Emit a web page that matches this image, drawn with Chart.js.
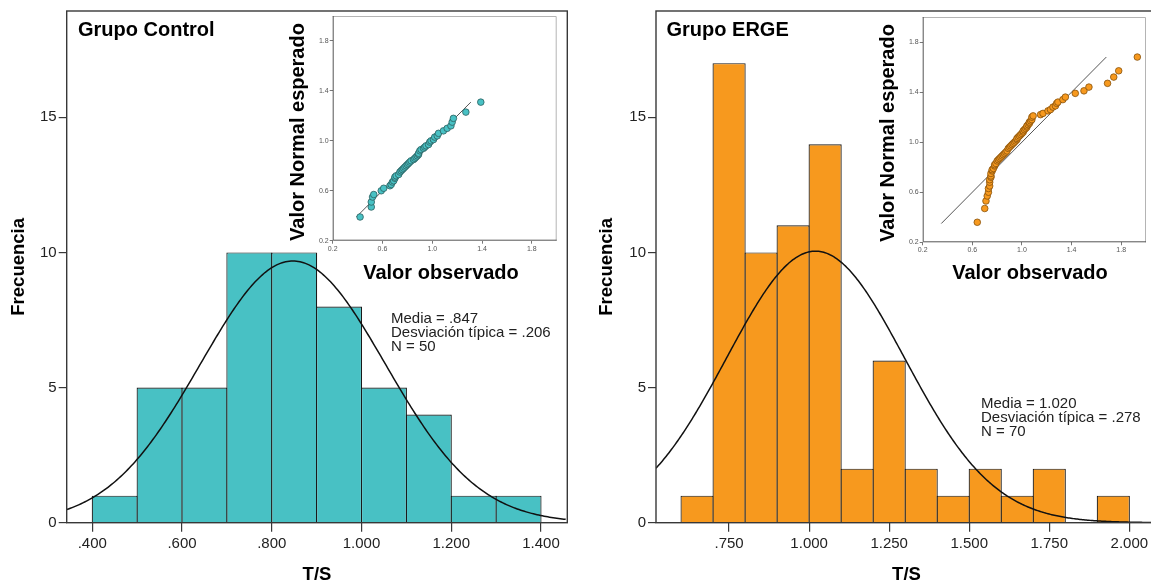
<!DOCTYPE html>
<html><head><meta charset="utf-8">
<script src="https://cdn.jsdelivr.net/npm/chart.js@4.4.1/dist/chart.umd.min.js"></script>
<style>
html,body{margin:0;padding:0;background:#fff;overflow:hidden;width:1151px;height:586px;position:relative;}
canvas{position:absolute;top:0;}
</style></head><body>
<canvas id="h1" width="580" height="586" style="left:0px"></canvas>
<canvas id="h2" width="600" height="586" style="left:580px"></canvas>
<canvas id="q1" width="290" height="290" style="left:280px"></canvas>
<canvas id="q2" width="290" height="290" style="left:870px"></canvas>
<script>
// ---------- DATA ----------
const ctrlBinStarts = [0.4,0.5,0.6,0.7,0.8,0.9,1.0,1.1,1.2,1.3];
const ctrlCounts    = [1,5,5,10,10,8,5,4,1,1];
const ergeBinStarts = [0.6,0.7,0.8,0.9,1.0,1.1,1.2,1.3,1.4,1.5,1.6,1.7,1.8,1.9];
const ergeCounts    = [1,17,10,11,14,2,6,2,1,2,1,2,0,1];
const binWidth = 0.1;

const ctrlStats = {mean:0.847, sd:0.206, n:50};
const ergeStats = {mean:1.020, sd:0.278, n:70};
const ctrlStatLines = ["Media = .847","Desviación típica = .206","N = 50"];
const ergeStatLines = ["Media = 1.020","Desviación típica = .278","N = 70"];

const ctrlXTickValues = [0.4,0.6,0.8,1.0,1.2,1.4];
const ctrlXTickLabels = [".400",".600",".800","1.000","1.200","1.400"];
const ergeXTickValues = [0.75,1.0,1.25,1.5,1.75,2.0];
const ergeXTickLabels = [".750","1.000","1.250","1.500","1.750","2.000"];
const yTickValues = [0,5,10,15];
const yTickLabels = ["0","5","10","15"];

const qqTickValues = [0.2,0.6,1.0,1.4,1.8];
const qqTickLabels = ["0.2","0.6","1.0","1.4","1.8"];

// Q-Q: observed values and expected normal values
const ctrlObs = [0.42,0.51,0.51,0.52,0.53,0.59,0.61,0.66,0.67,0.68,0.69,0.70,0.70,0.71,0.73,0.74,0.75,0.76,0.77,0.78,0.79,0.80,0.81,0.82,0.83,0.85,0.86,0.87,0.88,0.89,0.89,0.90,0.91,0.93,0.94,0.95,0.97,0.98,0.99,1.01,1.02,1.04,1.05,1.09,1.12,1.15,1.16,1.17,1.27,1.39];
const ctrlExp = [0.39,0.47,0.51,0.55,0.57,0.60,0.62,0.64,0.65,0.67,0.68,0.70,0.71,0.72,0.73,0.75,0.76,0.77,0.78,0.79,0.80,0.81,0.82,0.83,0.84,0.85,0.86,0.87,0.88,0.89,0.90,0.92,0.93,0.94,0.95,0.96,0.97,0.99,1.00,1.01,1.03,1.04,1.06,1.08,1.10,1.12,1.15,1.18,1.23,1.31];
const ctrlRefLine = [[0.39,0.39],[1.31,1.31]];

const ergeObs = [0.64,
 0.70,0.71,0.72,0.73,0.73,0.74,0.74,0.74,0.75,0.75,0.75,0.76,0.76,0.77,0.78,0.78,0.79,
 0.80,0.81,0.82,0.83,0.84,0.85,0.86,0.87,0.88,0.89,
 0.90,0.91,0.92,0.93,0.94,0.95,0.96,0.96,0.97,0.98,0.99,
 1.00,1.01,1.01,1.02,1.03,1.04,1.04,1.05,1.06,1.06,1.07,1.08,1.08,1.09,
 1.15,1.17,1.21,1.23,1.25,1.27,1.28,1.29,1.33,1.35,1.43,1.50,1.54,1.69,1.74,1.78,1.93];
const ergeExp = [0.36,0.47,0.53,0.57,0.60,0.63,0.65,0.68,0.70,0.72,
 0.73,0.75,0.77,0.78,0.79,0.81,0.82,0.83,0.85,0.86,
 0.87,0.88,0.89,0.90,0.91,0.92,0.93,0.95,0.96,0.97,
 0.98,0.99,1.00,1.01,1.02,1.03,1.04,1.05,1.06,1.07,
 1.08,1.09,1.10,1.11,1.12,1.13,1.14,1.15,1.16,1.17,
 1.18,1.20,1.21,1.22,1.23,1.25,1.26,1.28,1.29,1.31,
 1.32,1.34,1.36,1.39,1.41,1.44,1.47,1.52,1.57,1.68];
const ergeRefLine = [[0.35,0.35],[1.68,1.68]];

// ---------- STYLE ----------
const FONT = "'Liberation Sans', Arial, Helvetica, sans-serif";
const TEAL = '#48C1C4', ORANGE = '#F7991E';
Chart.defaults.font.family = FONT;
Chart.defaults.animation = false;

function normalCurve(st, xmin, xmax) {
  const pts = [];
  const k = st.n * binWidth / (st.sd * Math.sqrt(2*Math.PI));
  for (let x = xmin; x <= xmax + 1e-9; x += 0.004) {
    const z = (x - st.mean) / st.sd;
    pts.push({x: x, y: k * Math.exp(-0.5*z*z)});
  }
  return pts;
}

function histChart(id, cfg) {
  const textPlugin = {
    id: 'txt',
    afterDraw(chart) {
      const ctx = chart.ctx, a = chart.chartArea;
      ctx.save();
      ctx.strokeStyle = '#383838'; ctx.lineWidth = 1.4;
      ctx.strokeRect(a.left, a.top, a.right - a.left, a.bottom - a.top);
      ctx.fillStyle = '#000';
      ctx.font = "bold 20px " + FONT; ctx.textAlign = 'left'; ctx.textBaseline = 'alphabetic';
      ctx.fillText(cfg.title, cfg.titleX, 36);
      ctx.font = "15px " + FONT; ctx.fillStyle = '#222';
      cfg.statLines.forEach((l, i) => ctx.fillText(l, cfg.statX, cfg.statY + i*14));
      ctx.fillStyle = '#000';
      ctx.font = "bold 18.5px " + FONT; ctx.textAlign = 'center';
      ctx.fillText('T/S', (a.left + a.right)/2, 580);
      ctx.translate(cfg.yTitleX, (a.top + a.bottom)/2);
      ctx.rotate(-Math.PI/2);
      ctx.textBaseline = 'middle';
      ctx.fillText('Frecuencia', 0, 0);
      ctx.restore();
    }
  };
  return new Chart(document.getElementById(id), {
    type: 'bar',
    data: {
      datasets: [
        {type:'line', data: normalCurve(cfg.stats, cfg.xmin, cfg.xmax), borderColor:'#111', borderWidth:1.5,
         pointRadius:0, tension:0, fill:false, order:1},
        {type:'bar', data: cfg.starts.map((s,i)=>({x: s + binWidth/2, y: cfg.counts[i]})),
         backgroundColor: cfg.color, borderColor:'#1a1a1a', borderWidth:{top:1.2,left:1.2,right:1.2,bottom:0},
         barPercentage: cfg.barPct, categoryPercentage:1, order:2}
      ]
    },
    options: {
      responsive:false, animation:false,
      layout:{padding:{left:0, top:8.3, right:cfg.padRight, bottom:0}},
      plugins:{legend:{display:false}, tooltip:{enabled:false}},
      scales:{
        x:{type:'linear', min:cfg.xmin, max:cfg.xmax, offset:false,
           afterBuildTicks: s => { s.ticks = cfg.xTickValues.map(v=>({value:v})); },
           afterFit: s => { s.height = 586 - 522.7; },
           ticks:{callback:(v,i)=>cfg.xTickLabels[i], font:{size:15}, color:'#222', padding:3, maxRotation:0, autoSkip:false},
           grid:{offset:false, drawOnChartArea:false, drawTicks:true, tickLength:9, color:'#383838', lineWidth:1.2},
           border:{display:false}},
        y:{min:0, max:18.93,
           afterBuildTicks: s => { s.ticks = yTickValues.map(v=>({value:v})); },
           afterFit: s => { s.width = cfg.yAxisW; },
           ticks:{callback:(v,i)=>yTickLabels[i], font:{size:15}, color:'#222', padding:2, autoSkip:false},
           grid:{offset:false, drawOnChartArea:false, drawTicks:true, tickLength:8, color:'#383838', lineWidth:1.2},
           border:{display:false}}
      }
    },
    plugins:[textPlugin]
  });
}

histChart('h1', {title:'Grupo Control', titleX:78, statLines:ctrlStatLines, statX:391, statY:323,
  yTitleX:18.6, stats:ctrlStats, xmin:0.343, xmax:1.4586, starts:ctrlBinStarts, counts:ctrlCounts,
  color:TEAL, barPct:1.025, padRight:580-567.3, yAxisW:66.7, xTickValues:ctrlXTickValues, xTickLabels:ctrlXTickLabels});
histChart('h2', {title:'Grupo ERGE', titleX:86.5, statLines:ergeStatLines, statX:401, statY:408,
  yTitleX:27.3, stats:ergeStats, xmin:0.5217, xmax:2.0865, starts:ergeBinStarts, counts:ergeCounts,
  color:ORANGE, barPct:1.036, padRight:23, yAxisW:76, xTickValues:ergeXTickValues, xTickLabels:ergeXTickLabels});

function qqChart(id, cfg) {
  const qqPlugin = {
    id: 'qq',
    beforeDraw(chart) {
      const ctx = chart.ctx, a = chart.chartArea;
      ctx.save(); ctx.fillStyle = '#fff';
      ctx.fillRect(a.left, a.top, a.right - a.left, a.bottom - a.top);
      ctx.restore();
    },
    afterDraw(chart) {
      const ctx = chart.ctx, a = chart.chartArea;
      ctx.save();
      ctx.lineWidth = 1;
      ctx.strokeStyle = '#b4b4b4';
      ctx.beginPath(); ctx.moveTo(a.left, a.top + 0.5); ctx.lineTo(a.right - 0.5, a.top + 0.5); ctx.lineTo(a.right - 0.5, a.bottom); ctx.stroke();
      ctx.strokeStyle = '#555';
      ctx.beginPath(); ctx.moveTo(a.left + 0.5, a.top); ctx.lineTo(a.left + 0.5, a.bottom - 0.5); ctx.lineTo(a.right, a.bottom - 0.5); ctx.stroke();
      ctx.fillStyle = '#000';
      ctx.font = "bold 20px " + FONT; ctx.textAlign = 'center'; ctx.textBaseline = 'alphabetic';
      ctx.fillText('Valor observado', cfg.xTitleX, 279);
      ctx.translate(18.3, cfg.yTitleY);
      ctx.rotate(-Math.PI/2);
      ctx.textBaseline = 'middle';
      ctx.fillText('Valor Normal esperado', 0, 0);
      ctx.restore();
    }
  };
  return new Chart(document.getElementById(id), {
    type:'scatter',
    data:{datasets:[
      {type:'line', data: cfg.ref.map(p=>({x:p[0], y:p[1]})), borderColor:'#555', borderWidth:1, pointRadius:0, showLine:true, order:2},
      {type:'scatter', data: cfg.obs.map((o,i)=>({x:o, y:cfg.exp[i]})), pointRadius:3.3, backgroundColor:cfg.color,
       borderColor:cfg.pointBorder, borderWidth:0.8, order:1}
    ]},
    options:{
      responsive:false, animation:false,
      layout:{padding:{left:0, top:cfg.top, right:cfg.padRight, bottom:0}},
      plugins:{legend:{display:false}, tooltip:{enabled:false}},
      scales:{
        x:{type:'linear', min:0.2, max:2.0,
           afterBuildTicks: s => { s.ticks = qqTickValues.map(v=>({value:v})); },
           afterFit: s => { s.height = 290 - cfg.bottom; },
           ticks:{callback:(v,i)=>qqTickLabels[i], font:{size:7}, color:'#555', padding:1, maxRotation:0, autoSkip:false},
           grid:{drawOnChartArea:false, drawTicks:true, tickLength:3, color:'#777'},
           border:{display:false}},
        y:{type:'linear', min:0.2, max:2.0,
           afterBuildTicks: s => { s.ticks = qqTickValues.map(v=>({value:v})); },
           afterFit: s => { s.width = 52.7; },
           ticks:{callback:(v,i)=>qqTickLabels[i], font:{size:7}, color:'#555', padding:1, autoSkip:false},
           grid:{drawOnChartArea:false, drawTicks:true, tickLength:3, color:'#777'},
           border:{display:false}}
      }
    },
    plugins:[qqPlugin]
  });
}

qqChart('q1', {obs:ctrlObs, exp:ctrlExp, ref:ctrlRefLine, color:TEAL, pointBorder:'#2c5f60',
  top:16, bottom:240.7, padRight:290-276.7, xTitleX:161, yTitleY:132});
qqChart('q2', {obs:ergeObs, exp:ergeExp, ref:ergeRefLine, color:ORANGE, pointBorder:'#87520c',
  top:17, bottom:242.3, padRight:290-276, xTitleX:160, yTitleY:133});
</script>
</body></html>
